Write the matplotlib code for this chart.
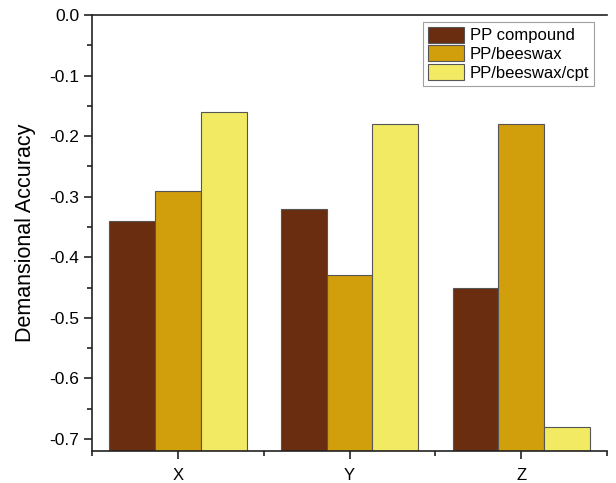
import matplotlib
matplotlib.use('Agg')
import matplotlib.pyplot as plt
import numpy as np
from matplotlib.ticker import MultipleLocator

plt.rcParams['font.family'] = ['Liberation Sans', 'DejaVu Sans']

# data
categories = ['X', 'Y', 'Z']
series_names = ['PP compound', 'PP/beeswax', 'PP/beeswax/cpt']
pp_compound = [-0.34, -0.32, -0.45]
pp_beeswax = [-0.29, -0.43, -0.18]
pp_beeswax_cpt = [-0.16, -0.18, -0.68]
colors = ['#6B2D10', '#D19E0C', '#F2EA62']
yticks = [-0.7, -0.6, -0.5, -0.4, -0.3, -0.2, -0.1, 0.0]

ymin, ymax = -0.72, 0.0

fig = plt.figure(figsize=(6.16, 4.83), dpi=100)
ax = fig.add_axes([92 / 616, 1 - 451 / 483, (607 - 92) / 616, (451 - 15) / 483])

x = np.arange(1, len(categories) + 1)
w = 0.8 / 3
for i, (vals, name) in enumerate(zip([pp_compound, pp_beeswax, pp_beeswax_cpt], series_names)):
    vals = np.array(vals)
    # origin style: bars grow from the bottom of the axis
    ax.bar(x + (i - 1) * w, vals - ymin, width=w, bottom=ymin,
           color=colors[i], edgecolor='#555555', linewidth=0.8, label=name)

ax.set_xlim(0.5, 3.5)
ax.set_ylim(ymin, ymax)
ax.set_xticks(x)
ax.set_xticklabels(categories, fontsize=12)
ax.xaxis.set_minor_locator(MultipleLocator(1.0, offset=0.5))
ax.yaxis.set_minor_locator(MultipleLocator(0.05))
ax.set_yticks(yticks)
ax.set_yticklabels(['%.1f' % abs(v) if v == 0 else '%.1f' % v for v in yticks], fontsize=12.5)

ax.tick_params(which='major', direction='out', length=6, width=1.2, color='#222222')
ax.tick_params(which='minor', direction='out', length=3.5, width=1.2, color='#222222')
ax.tick_params(axis='x', pad=6)
ax.tick_params(axis='y', pad=3)
for side in ['left', 'bottom', 'top']:
    ax.spines[side].set_linewidth(1.2)
    ax.spines[side].set_color('#222222')
ax.spines['right'].set_visible(False)

ax.set_ylabel('Demansional Accuracy', fontsize=15.5, labelpad=10)

leg = ax.legend(loc='upper right', bbox_to_anchor=(0.975, 0.985), fontsize=12,
                frameon=True, fancybox=False, edgecolor='#888888',
                handlelength=2.15, handleheight=1.1, handletextpad=0.35,
                borderpad=0.3, labelspacing=0.12, borderaxespad=0.0)
leg.get_frame().set_linewidth(0.8)

fig.savefig('out.png', dpi=100)
